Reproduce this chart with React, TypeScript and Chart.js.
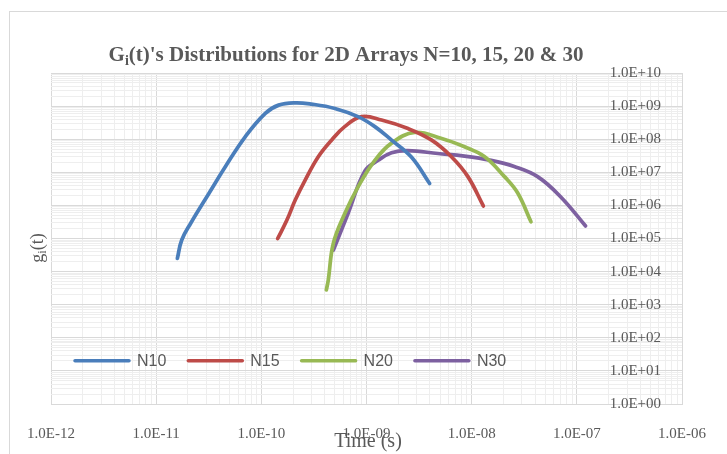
import React, { useEffect, useRef } from "react";
import { Chart, registerables } from "chart.js";

Chart.register(...registerables);

// ---- data ----
const seriesLabels = ["N10", "N15", "N20", "N30"];
const seriesColors = ["#4A7EBB", "#BE4B48", "#98B954", "#7D60A0"];

const tN10 = [1.59e-11, 1.75e-11, 2.13e-11, 3.17e-11, 4.56e-11, 7.05e-11, 1.09e-10, 1.46e-10, 2.1e-10, 3.0e-10, 5.0e-10, 8.3e-10, 1.2e-9, 1.73e-9, 2.67e-9, 3.98e-9];
const gN10 = [2.5e4, 9e4, 2.9e5, 2.3e6, 1.5e7, 1.2e8, 6.0e8, 1.07e9, 1.26e9, 1.15e9, 8.5e8, 4.8e8, 2.4e8, 9.4e7, 2.9e7, 4.6e6];

const tN15 = [1.43e-10, 1.75e-10, 2.1e-10, 2.61e-10, 3.49e-10, 4.67e-10, 6.2e-10, 8.97e-10, 1.39e-9, 2.48e-9, 4.13e-9, 6.38e-9, 9.2e-9, 1.29e-8];
const gN15 = [1.0e5, 3.6e5, 1.45e6, 5.8e6, 3.0e7, 9.5e7, 2.4e8, 4.8e8, 3.8e8, 2.1e8, 9.5e7, 3.0e7, 7.4e6, 9.6e5];

const tN20 = [4.15e-10, 4.33e-10, 4.84e-10, 6.23e-10, 8.34e-10, 1.2e-9, 1.73e-9, 2.87e-9, 5.1e-9, 8.55e-9, 1.32e-8, 2.05e-8, 2.73e-8, 3.66e-8];
const gN20 = [2.8e3, 5.6e3, 7.2e4, 5.8e5, 3.7e6, 2.3e7, 7.6e7, 1.6e8, 1.07e8, 5.9e7, 3.0e7, 7.4e6, 2.4e6, 3.2e5];

const tN30 = [4.84e-10, 6.7e-10, 9.66e-10, 1.29e-9, 1.73e-9, 2.48e-9, 4.78e-9, 8.55e-9, 1.53e-8, 2.54e-8, 4.23e-8, 7.03e-8, 1.21e-7];
const gN30 = [4.5e4, 5.9e5, 1.1e7, 2.3e7, 3.9e7, 4.5e7, 3.7e7, 3.1e7, 2.3e7, 1.5e7, 7.4e6, 1.8e6, 2.4e5];

const seriesT = [tN10, tN15, tN20, tN30];
const seriesG = [gN10, gN15, gN20, gN30];

const xTickExponents = [-12, -11, -10, -9, -8, -7, -6];
const yTickExponents = [0, 1, 2, 3, 4, 5, 6, 7, 8, 9, 10];

const titleMain = "G";
const titleSub = "i";
const titleRest = "(t)'s Distributions for 2D Arrays N=10, 15, 20 & 30";
const yTitleMain = "g";
const yTitleSub = "i";
const yTitleRest = "(t)";
const xTitle = "Time (s)";

// ---- helpers ----
function sci(v: number): string {
  const e = Math.round(Math.log10(v));
  const s = e < 0 ? "-" : "+";
  return "1.0E" + s + String(Math.abs(e)).padStart(2, "0");
}

function logTicks(exps: number[]) {
  const out: { value: number; major: boolean }[] = [];
  for (let i = 0; i < exps.length; i++) {
    const e = exps[i];
    out.push({ value: parseFloat("1e" + e), major: true });
    if (i < exps.length - 1) {
      for (let m = 2; m <= 9; m++) out.push({ value: parseFloat(m + "e" + e), major: false });
    }
  }
  return out;
}

const TEXT = "#595959";
const MAJOR = "#d9d9d9";
const MINOR = "#eeeeee";
const SERIF = '"Liberation Serif", "Times New Roman", serif';
const SANS = '"Liberation Sans", Arial, sans-serif';

const decorPlugin = {
  id: "decor",
  beforeDraw(chart: any) {
    const ctx = chart.ctx;
    ctx.save();
    ctx.fillStyle = "#ffffff";
    ctx.fillRect(0, 0, chart.width, chart.height);
    ctx.strokeStyle = "#d9d9d9";
    ctx.lineWidth = 1;
    ctx.strokeRect(9.5, 11.5, chart.width + 40, chart.height + 40);
    ctx.restore();
  },
  afterDraw(chart: any) {
    const ctx = chart.ctx;
    ctx.save();
    ctx.fillStyle = TEXT;
    ctx.textAlign = "left";
    ctx.textBaseline = "alphabetic";

    // title
    const big = "bold 21px " + SERIF;
    const small = "bold 14px " + SERIF;
    ctx.font = big;
    const wG = ctx.measureText(titleMain).width;
    const wR = ctx.measureText(titleRest).width;
    ctx.font = small;
    const wi = ctx.measureText(titleSub).width;
    let x = 346 - (wG + wi + wR) / 2;
    const y = 61;
    ctx.font = big;
    ctx.fillText(titleMain, x, y);
    x += wG;
    ctx.font = small;
    ctx.fillText(titleSub, x, y + 4);
    x += wi;
    ctx.font = big;
    ctx.fillText(titleRest, x, y);

    // x axis title
    ctx.font = "20px " + SERIF;
    ctx.textAlign = "center";
    ctx.fillText(xTitle, 368, 447);

    // y axis title
    ctx.save();
    ctx.translate(43, 248);
    ctx.rotate(-Math.PI / 2);
    ctx.textAlign = "left";
    const yb = "18px " + SERIF;
    const ys = "12px " + SERIF;
    ctx.font = yb;
    const a = ctx.measureText(yTitleMain).width;
    const c = ctx.measureText(yTitleRest).width;
    ctx.font = ys;
    const b = ctx.measureText(yTitleSub).width;
    let yx = -(a + b + c) / 2;
    ctx.font = yb;
    ctx.fillText(yTitleMain, yx, 0);
    yx += a;
    ctx.font = ys;
    ctx.fillText(yTitleSub, yx, 3);
    yx += b;
    ctx.font = yb;
    ctx.fillText(yTitleRest, yx, 0);
    ctx.restore();

    // legend
    const ly = 360.7;
    ctx.font = "16px " + SANS;
    ctx.textAlign = "left";
    ctx.textBaseline = "middle";
    chart.data.datasets.forEach((ds: any, i: number) => {
      const x0 = 75 + i * 113.3;
      ctx.strokeStyle = ds.borderColor;
      ctx.lineWidth = 3.5;
      ctx.lineCap = "round";
      ctx.beginPath();
      ctx.moveTo(x0, ly);
      ctx.lineTo(x0 + 54, ly);
      ctx.stroke();
      ctx.fillStyle = TEXT;
      ctx.fillText(ds.label, x0 + 62, ly + 1);
    });
    ctx.restore();
  },
};

const gridColor = (c: any) => (c.tick && c.tick.major ? MAJOR : MINOR);

export default function App() {
  const ref = useRef<HTMLCanvasElement>(null);
  useEffect(() => {
    if (!ref.current) return;
    const datasets = seriesLabels.map((label, i) => ({
      label,
      data: seriesT[i].map((t, j) => ({ x: t, y: seriesG[i][j] })),
      borderColor: seriesColors[i],
      backgroundColor: seriesColors[i],
      borderWidth: 3.75,
      pointRadius: 0,
      showLine: true,
      tension: 0.4,
      borderCapStyle: "round" as const,
      borderJoinStyle: "round" as const,
    }));
    const chart = new Chart(ref.current, {
      type: "scatter",
      data: { datasets },
      options: {
        animation: false,
        responsive: false,
        devicePixelRatio: 1,
        layout: { padding: { left: 51, right: 43, top: 73, bottom: 0 } },
        plugins: { legend: { display: false }, title: { display: false }, tooltip: { enabled: false } },
        scales: {
          x: {
            type: "logarithmic",
            position: "bottom",
            min: 1e-12,
            max: 1e-6,
            afterBuildTicks: (s: any) => {
              s.ticks = logTicks(xTickExponents);
            },
            afterFit: (s: any) => {
              s.height = 50;
            },
            grid: { color: gridColor, drawTicks: false, lineWidth: 1 },
            border: { display: true, color: MAJOR },
            ticks: {
              autoSkip: false,
              maxRotation: 0,
              padding: 21,
              color: TEXT,
              font: { family: SERIF, size: 15 },
              callback: (v: any, i: number, ticks: any[]) => (ticks[i].major ? sci(Number(v)) : ""),
            },
          },
          y: {
            type: "logarithmic",
            position: "right",
            min: 1,
            max: 1e10,
            afterBuildTicks: (s: any) => {
              s.ticks = logTicks(yTickExponents);
            },
            afterFit: (s: any) => {
              s.width = 0;
            },
            grid: { color: gridColor, drawTicks: false, lineWidth: 1 },
            border: { display: true, color: MAJOR },
            ticks: {
              mirror: true,
              autoSkip: false,
              padding: -21,
              color: TEXT,
              font: { family: SERIF, size: 15 },
              callback: (v: any, i: number, ticks: any[]) => (ticks[i].major ? sci(Number(v)) : ""),
            },
          },
        },
      },
      plugins: [decorPlugin],
    } as any);
    return () => chart.destroy();
  }, []);
  return (
    <canvas
      ref={ref}
      width={727}
      height={454}
      style={{ position: "fixed", left: 0, top: 0, width: 727, height: 454 }}
    />
  );
}
